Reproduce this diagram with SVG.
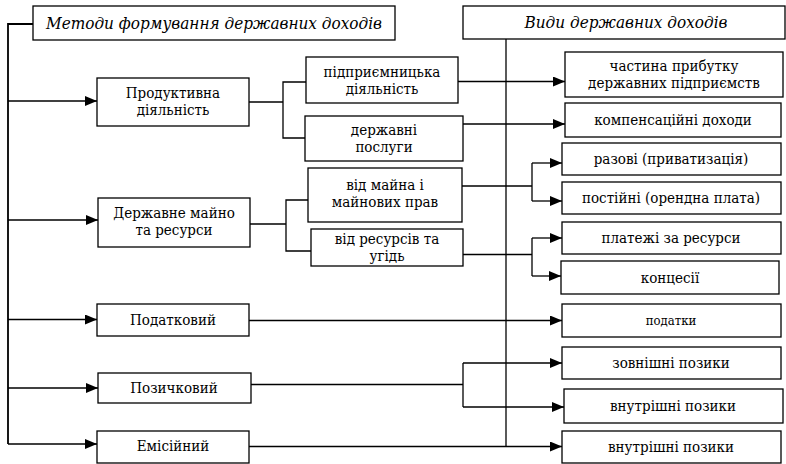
<svg xmlns="http://www.w3.org/2000/svg" width="786" height="464" viewBox="0 0 786 464" font-family="DejaVu Serif Condensed, DejaVu Serif, serif">
<defs>
<marker id="ah" markerUnits="userSpaceOnUse" markerWidth="12" markerHeight="10" viewBox="0 0 12 10" refX="12" refY="5" orient="auto">
<path d="M0,0 L12,5 L0,10 Z" fill="#000"/>
</marker>
<style>
rect{fill:#fff;stroke:#000;stroke-width:1.3}
text{font-size:15px;fill:#000;text-anchor:middle;font-stretch:condensed}
.t{font-style:italic;font-size:17px}
.c path{fill:none;stroke:#000;stroke-width:1.3}
.c .a{marker-end:url(#ah)}
</style>
</defs>
<rect x="0" y="0" width="786" height="464" style="fill:#fff;stroke:none"/>
<g class="c" id="connectors">
<path d="M33,24 H8 V444" style="stroke-width:1.8"/>
<path class="a" d="M8,101 H97"/>
<path class="a" d="M8,220 H98"/>
<path class="a" d="M8,319.5 H97"/>
<path class="a" d="M8,388 H98"/>
<path class="a" d="M8,444 H97"/>
<path d="M249,102 H283"/>
<path d="M306,82 H283 V138 H305"/>
<path class="a" d="M458,81.5 H565"/>
<path class="a" d="M463,124 H565"/>
<path d="M250,224 H286"/>
<path d="M308,200 H286 V251 H311"/>
<path d="M462,186 H532"/>
<path d="M532,163 V201"/>
<path class="a" d="M532,163 H562"/>
<path class="a" d="M532,201 H562"/>
<path d="M463,254.5 H532"/>
<path d="M532,238 V276"/>
<path class="a" d="M532,238 H562"/>
<path class="a" d="M532,276 H561"/>
<path class="a" d="M249,320.5 H562"/>
<path d="M251,384.5 H463"/>
<path d="M463,363 V407"/>
<path class="a" d="M463,363 H562"/>
<path class="a" d="M463,407 H564"/>
<path class="a" d="M249,446.5 H562"/>
<path d="M506,39 V446.5"/>
</g>
<g id="title-methods"><rect x="33" y="6" width="362" height="34"/><text class="t" x="214" y="29">Методи формування державних доходів</text></g>
<g id="title-types"><rect x="463" y="6" width="322" height="33"/><text class="t" x="626" y="28">Види державних доходів</text></g>
<g id="n-productive"><rect x="97" y="78" width="152" height="48"/><text x="173" y="98">Продуктивна</text><text x="173" y="115">діяльність</text></g>
<g id="n-enterprise"><rect x="306" y="57" width="152" height="46"/><text x="382" y="77">підприємницька</text><text x="382" y="94">діяльність</text></g>
<g id="n-services"><rect x="305" y="116" width="158" height="45"/><text x="384" y="135">державні</text><text x="384" y="152">послуги</text></g>
<g id="n-property"><rect x="98" y="198" width="152" height="49"/><text x="174" y="218">Державне майно</text><text x="174" y="235">та ресурси</text></g>
<g id="n-prop-rights"><rect x="308" y="168" width="154" height="54"/><text x="385" y="190">від майна і</text><text x="385" y="207">майнових прав</text></g>
<g id="n-resources"><rect x="311" y="229" width="152" height="37"/><text x="387" y="244">від ресурсів та</text><text x="387" y="261">угідь</text></g>
<g id="n-tax"><rect x="97" y="304" width="152" height="32"/><text x="173" y="325">Податковий</text></g>
<g id="n-loan"><rect x="98" y="373" width="153" height="30"/><text x="174" y="393">Позичковий</text></g>
<g id="n-emission"><rect x="97" y="431" width="152" height="32"/><text x="173" y="451">Емісійний</text></g>
<g id="r-profit"><rect x="565" y="52" width="218" height="45"/><text x="674" y="71">частина прибутку</text><text x="674" y="88">державних підприємств</text></g>
<g id="r-comp"><rect x="565" y="103" width="216" height="34"/><text x="673" y="125">компенсаційні доходи</text></g>
<g id="r-once"><rect x="562" y="143" width="219" height="32"/><text x="671" y="164">разові (приватизація)</text></g>
<g id="r-perm"><rect x="562" y="182" width="219" height="32"/><text x="671" y="203">постійні (орендна плата)</text></g>
<g id="r-pay"><rect x="562" y="222" width="219" height="32"/><text x="671" y="243">платежі за ресурси</text></g>
<g id="r-conc"><rect x="561" y="261" width="218" height="33"/><text x="670" y="283">концесії</text></g>
<g id="r-taxes"><rect x="562" y="304" width="219" height="33"/><text x="671" y="325" style="font-size:13px">податки</text></g>
<g id="r-ext"><rect x="562" y="347" width="219" height="32"/><text x="671" y="368">зовнішні позики</text></g>
<g id="r-int1"><rect x="564" y="389" width="219" height="34"/><text x="673" y="411">внутрішні позики</text></g>
<g id="r-int2"><rect x="562" y="431" width="219" height="32"/><text x="671" y="452">внутрішні позики</text></g>
</svg>
